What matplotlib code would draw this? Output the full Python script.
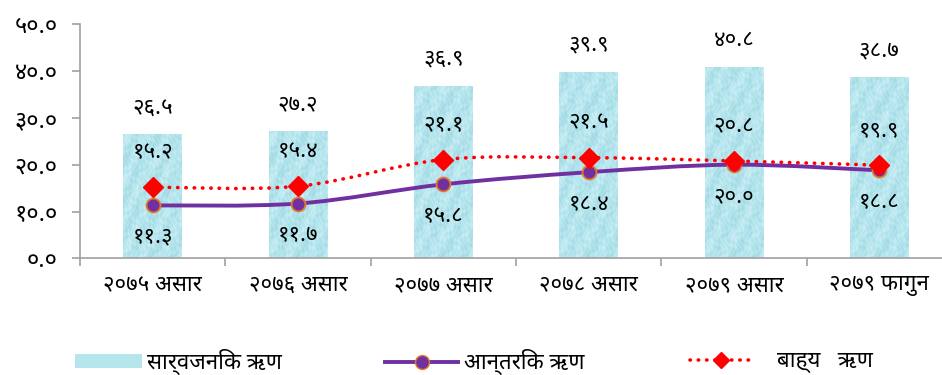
import numpy as np
import matplotlib
matplotlib.use('Agg')
import matplotlib.pyplot as plt
from matplotlib import font_manager
from matplotlib.colors import LinearSegmentedColormap
from matplotlib.path import Path
from matplotlib.patches import PathPatch, Patch
from matplotlib.lines import Line2D

# data
categories = ['२०७५ असार', '२०७६ असार', '२०७७ असार', '२०७८ असार', '२०७९ असार', '२०७९ फागुन']
public_debt = [26.5, 27.2, 36.9, 39.9, 40.8, 38.7]
internal_debt = [11.3, 11.7, 15.8, 18.4, 20.0, 18.8]
external_debt = [15.2, 15.4, 21.1, 21.5, 20.8, 19.9]
yticks = [0, 10, 20, 30, 40, 50]
ytick_labels = ['०.०', '१०.०', '२०.०', '३०.०', '४०.०', '५०.०']
legend_labels = ['सार्वजनिक ऋण', 'आन्तरिक ऋण', 'बाह्य   ऋण']


def to_dev(v):
    digits = '०१२३४५६७८९'
    s = '%.1f' % v
    return ''.join(digits[int(c)] if c.isdigit() else c for c in s)


# pick a devanagari font, mangal-like ones first
installed = set(f.name for f in font_manager.fontManager.ttflist)
wanted = ['Noto Sans Devanagari', 'Lohit Devanagari', 'Kalimati', 'Mukta', 'Hind',
          'Annapurna SIL', 'Amiko', 'FreeSans']
deva = [n for n in wanted if n in installed]
plt.rcParams['font.family'] = deva[:1] + ['DejaVu Sans']


def smooth_path(xs, ys):
    # bezier curve through the points, like a smoothed line
    xs = np.asarray(xs, float)
    ys = np.asarray(ys, float)
    verts = [(xs[0], ys[0])]
    codes = [Path.MOVETO]
    n = len(xs)
    for i in range(n - 1):
        x0, y0 = (xs[i - 1], ys[i - 1]) if i > 0 else (xs[i], ys[i])
        x3, y3 = (xs[i + 2], ys[i + 2]) if i + 2 < n else (xs[i + 1], ys[i + 1])
        c1 = (xs[i] + (xs[i + 1] - x0) / 6.0, ys[i] + (ys[i + 1] - y0) / 6.0)
        c2 = (xs[i + 1] - (x3 - xs[i]) / 6.0, ys[i + 1] - (y3 - ys[i]) / 6.0)
        verts += [c1, c2, (xs[i + 1], ys[i + 1])]
        codes += [Path.CURVE4] * 3
    return Path(verts, codes)


fig = plt.figure(figsize=(9.42, 3.75), dpi=100)
ax = fig.add_axes([80 / 942, 1 - 258.3 / 375, 872 / 942, 234 / 375])

x = np.arange(len(categories))
bar_color = '#b5e6ee'
bars = ax.bar(x, public_debt, width=0.405, color=bar_color, zorder=1)

# water drop like texture on the bars (just a pattern, clipped to each bar)
gx, gy = np.meshgrid(np.linspace(0, 60, 240), np.linspace(0, 200, 400))
tex = (np.sin(gx * 0.9 + np.sin(gy * 0.35) * 2) * np.cos(gy * 0.55 + np.cos(gx * 0.4) * 2)
       + 0.5 * np.sin(gx * 0.3 + gy * 0.2))
water = LinearSegmentedColormap.from_list('water', ['#9fd6e2', '#b5e6ee', '#d2f1f6'])
for b in bars:
    im = ax.imshow(tex, cmap=water, aspect='auto', interpolation='bilinear',
                   extent=[b.get_x(), b.get_x() + b.get_width(), 0, 50], zorder=1.5,
                   alpha=0.9)
    im.set_clip_path(b)

purple = '#7030a0'
red = '#ff0000'
orange = '#e8782a'
dots = (0, (0.1, 2.2))

ax.add_patch(PathPatch(smooth_path(x, internal_debt), fill=False, ec=purple,
                       lw=2.8, zorder=3, capstyle='round'))
ax.plot(x, internal_debt, ls='none', marker='o', ms=10, mfc=purple,
        mec=orange, mew=1.3, zorder=4)

ax.add_patch(PathPatch(smooth_path(x, external_debt), fill=False, ec=red,
                       lw=2.6, ls=dots, capstyle='round', zorder=5))
ax.plot(x, external_debt, ls='none', marker='D', ms=10, mfc=red, mec=red,
        zorder=6)

fs = 16
for i in range(len(x)):
    ax.annotate(to_dev(public_debt[i]), (x[i], public_debt[i]), xytext=(0, 19),
                textcoords='offset points', ha='center', va='center', fontsize=fs)
    ax.annotate(to_dev(external_debt[i]), (x[i], external_debt[i]), xytext=(0, 25),
                textcoords='offset points', ha='center', va='center', fontsize=fs,
                zorder=7)
    ax.annotate(to_dev(internal_debt[i]), (x[i], internal_debt[i]), xytext=(0, -23),
                textcoords='offset points', ha='center', va='center', fontsize=fs,
                zorder=7)

ax.set_xlim(-0.5, len(x) - 0.5)
ax.set_ylim(0, 50)
ax.set_yticks(yticks)
ax.set_yticklabels(ytick_labels, fontsize=17)
ax.set_xticks(x)
ax.set_xticklabels(categories, fontsize=fs)
ax.tick_params(axis='x', length=0, pad=12)
ax.set_xticks(np.arange(len(x) + 1) - 0.5, minor=True)
ax.tick_params(axis='x', which='minor', length=6, color='#a0a0a0', width=1.2)
ax.tick_params(axis='y', length=6, color='#a0a0a0', width=1.2, pad=10)

for s in ['top', 'right']:
    ax.spines[s].set_visible(False)
for s in ['left', 'bottom']:
    ax.spines[s].set_color('#a0a0a0')
    ax.spines[s].set_linewidth(1.2)
    ax.spines[s].set_zorder(8)

# legend, one entry at a time so each sits where it does in the source
lfs = 16
handles = [
    Patch(facecolor=bar_color),
    Line2D([0], [0], color=purple, lw=2.8, marker='o', ms=10, mfc=purple, mec=orange),
    Line2D([0], [0], color=red, lw=2.6, ls=dots, dash_capstyle='round',
           marker='D', ms=8, mfc=red, mec=red),
]
starts = [75, 385, 690]
hlens = [3.0, 3.3, 2.8]
tpads = [0.25, 0.25, 1.1]
for h, lab, x0, hl, tp in zip(handles, legend_labels, starts, hlens, tpads):
    fig.legend([h], [lab], loc='center left', bbox_to_anchor=(x0 / 942, 1 - 362 / 375),
               frameon=False, fontsize=lfs, handlelength=hl, handletextpad=tp,
               handleheight=0.55, borderpad=0, borderaxespad=0)

fig.savefig('out.png', dpi=100)
